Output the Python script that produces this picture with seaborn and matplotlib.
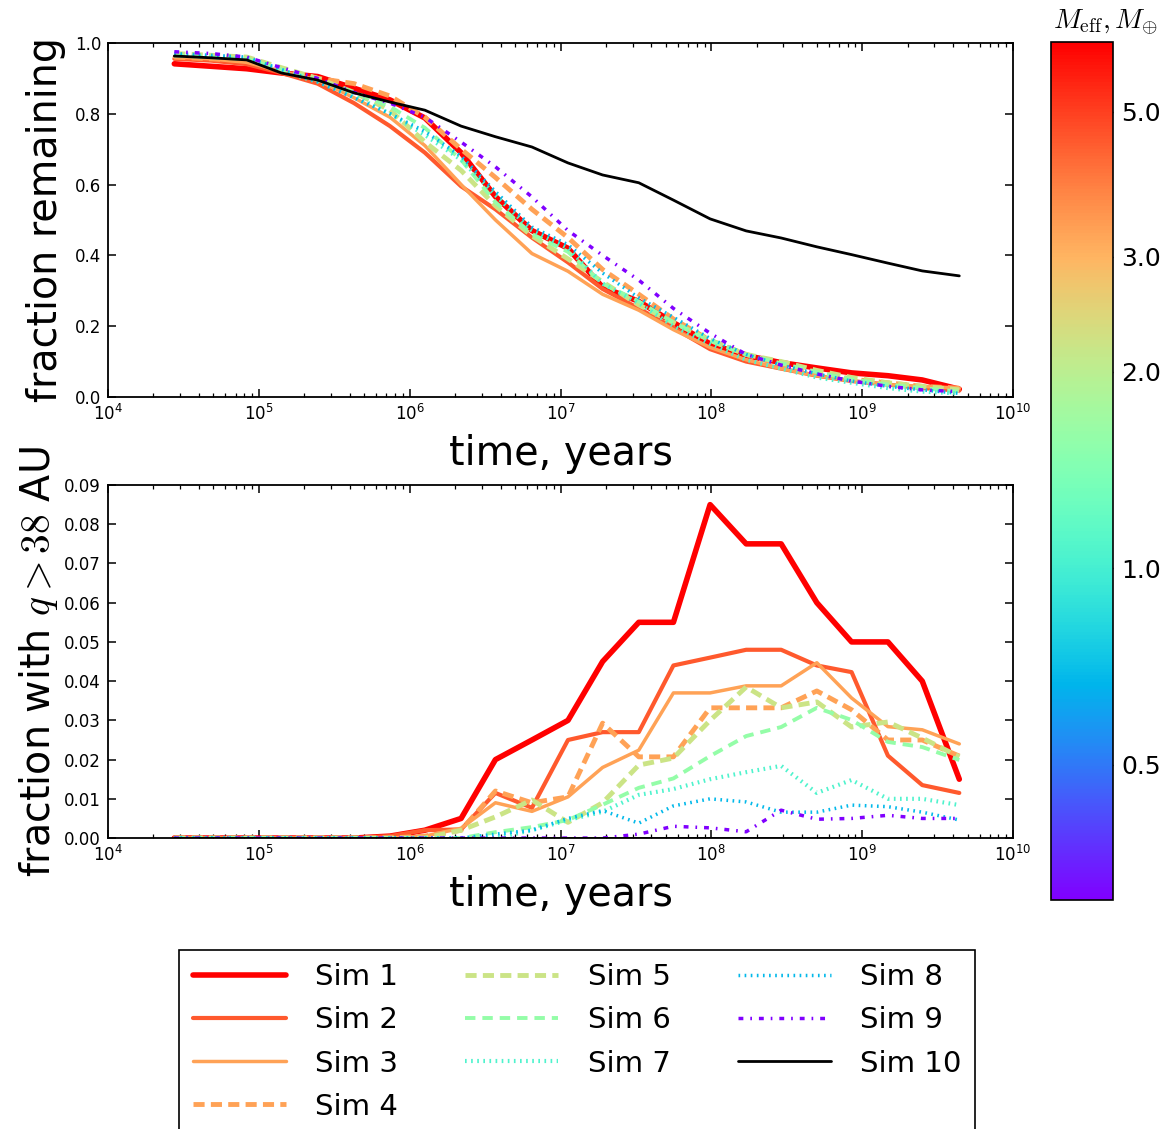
#!/usr/bin/env python
# -*- coding: utf-8 -*-

import numpy as np
import pandas as pd
import matplotlib
matplotlib.use('Agg')
import matplotlib.pyplot as plt
import matplotlib.colors as mcolors
import matplotlib.ticker as mticker
import seaborn as sns

# ==================== data ====================
times = [2.75e4, 4.8e4, 8.3e4, 1.41e5, 2.45e5, 4.27e5, 7.4e5, 1.26e6, 2.19e6,
         3.7e6, 6.46e6, 1.12e7, 1.9e7, 3.3e7, 5.6e7, 9.8e7, 1.7e8, 2.9e8,
         5.0e8, 8.5e8, 1.48e9, 2.5e9, 4.4e9]
time_ticks = [1e4, 1e5, 1e6, 1e7, 1e8, 1e9, 1e10]

sim_names = ['Sim 1', 'Sim 2', 'Sim 3', 'Sim 4', 'Sim 5',
             'Sim 6', 'Sim 7', 'Sim 8', 'Sim 9', 'Sim 10']
# effective mass (Earth masses) used for the colour of sims 1-9
sim_mass = [6.4, 4.5, 3.3, 3.3, 2.2, 1.6, 1.05, 0.68, 0.31]
mass_ticks = [0.5, 1.0, 2.0, 3.0, 5.0]

# fraction remaining (top panel)
rem_sim1 = [0.941, 0.934, 0.927, 0.915, 0.905, 0.872, 0.839, 0.788, 0.69, 0.566, 0.47, 0.42,
            0.31, 0.27, 0.21, 0.15, 0.117, 0.097, 0.082, 0.068, 0.06, 0.048, 0.022]
rem_sim2 = [0.955, 0.95, 0.94, 0.915, 0.885, 0.83, 0.765, 0.69, 0.595, 0.53, 0.45, 0.38,
            0.305, 0.25, 0.195, 0.135, 0.1, 0.08, 0.06, 0.045, 0.035, 0.025, 0.018]
rem_sim3 = [0.96, 0.955, 0.945, 0.92, 0.895, 0.845, 0.79, 0.71, 0.6, 0.5, 0.405, 0.355,
            0.29, 0.245, 0.19, 0.14, 0.105, 0.08, 0.06, 0.045, 0.035, 0.03, 0.025]
rem_sim4 = [0.96, 0.955, 0.95, 0.92, 0.9, 0.885, 0.85, 0.79, 0.7, 0.62, 0.53, 0.45,
            0.36, 0.29, 0.22, 0.16, 0.12, 0.09, 0.07, 0.05, 0.04, 0.03, 0.025]
rem_sim5 = [0.97, 0.965, 0.96, 0.93, 0.9, 0.86, 0.81, 0.72, 0.64, 0.54, 0.455, 0.39,
            0.325, 0.26, 0.21, 0.16, 0.12, 0.1, 0.075, 0.055, 0.04, 0.03, 0.02]
rem_sim6 = [0.965, 0.96, 0.955, 0.925, 0.895, 0.86, 0.82, 0.76, 0.67, 0.55, 0.46, 0.41,
            0.32, 0.27, 0.21, 0.16, 0.12, 0.095, 0.07, 0.05, 0.035, 0.025, 0.015]
rem_sim7 = [0.965, 0.96, 0.955, 0.92, 0.89, 0.85, 0.8, 0.74, 0.67, 0.57, 0.47, 0.42,
            0.32, 0.265, 0.2, 0.15, 0.105, 0.08, 0.055, 0.04, 0.025, 0.015, 0.01]
rem_sim8 = [0.97, 0.965, 0.96, 0.925, 0.89, 0.845, 0.8, 0.75, 0.68, 0.58, 0.48, 0.43,
            0.35, 0.28, 0.225, 0.165, 0.12, 0.09, 0.065, 0.045, 0.03, 0.02, 0.01]
rem_sim9 = [0.975, 0.97, 0.96, 0.93, 0.9, 0.86, 0.83, 0.79, 0.72, 0.65, 0.565, 0.47,
            0.4, 0.33, 0.25, 0.18, 0.12, 0.09, 0.065, 0.045, 0.03, 0.02, 0.015]
rem_sim10 = [0.963, 0.958, 0.952, 0.915, 0.895, 0.859, 0.833, 0.81, 0.765, 0.735, 0.706, 0.661,
             0.627, 0.605, 0.556, 0.503, 0.469, 0.449, 0.424, 0.402, 0.378, 0.356, 0.342]

# fraction with q > 38 AU (bottom panel)
q38_sim1 = [0, 0, 0, 0, 0, 0, 0.0005, 0.002, 0.005, 0.02, 0.025, 0.03,
            0.045, 0.055, 0.055, 0.085, 0.075, 0.075, 0.06, 0.05, 0.05, 0.04, 0.015]
q38_sim2 = [0, 0, 0, 0, 0, 0, 0.0005, 0.002, 0.0022, 0.0115, 0.0077, 0.025,
            0.027, 0.027, 0.044, 0.046, 0.048, 0.048, 0.044, 0.0423, 0.021, 0.0135, 0.0115]
q38_sim3 = [0, 0, 0, 0, 0, 0, 0, 0.0005, 0.0025, 0.009, 0.0068, 0.0105,
            0.018, 0.0224, 0.037, 0.037, 0.0388, 0.0388, 0.0447, 0.0357, 0.0284, 0.0276, 0.024]
q38_sim4 = [0, 0, 0, 0, 0, 0, 0, 0.0005, 0.002, 0.012, 0.009, 0.0105,
            0.0293, 0.0207, 0.0207, 0.0332, 0.0332, 0.0332, 0.0375, 0.0327, 0.025, 0.025, 0.0209]
q38_sim5 = [0, 0, 0, 0, 0, 0, 0, 0, 0.002, 0.0054, 0.0097, 0.004,
            0.009, 0.0186, 0.0204, 0.03, 0.0385, 0.0332, 0.0347, 0.0283, 0.0296, 0.0255, 0.0207]
q38_sim6 = [0, 0, 0, 0, 0, 0, 0, 0, 0, 0.0015, 0.0028, 0.0046,
            0.0085, 0.0128, 0.0152, 0.0209, 0.026, 0.0283, 0.0332, 0.0301, 0.0245, 0.0232, 0.0199]
q38_sim7 = [0, 0, 0, 0, 0, 0, 0, 0, 0, 0, 0.002, 0.0046,
            0.0067, 0.011, 0.0125, 0.015, 0.0168, 0.0184, 0.0115, 0.0148, 0.01, 0.01, 0.0084]
q38_sim8 = [0, 0, 0, 0, 0, 0, 0, 0, 0, 0.001, 0.002, 0.005,
            0.007, 0.0038, 0.0082, 0.01, 0.0092, 0.0066, 0.0066, 0.0084, 0.008, 0.0066, 0.0046]
q38_sim9 = [0, 0, 0, 0, 0, 0, 0, 0, 0, 0, 0, 0,
            0, 0.001, 0.003, 0.0026, 0.0016, 0.0071, 0.0048, 0.005, 0.0058, 0.005, 0.005]
q38_sim10 = [0] * 23

remaining = [rem_sim1, rem_sim2, rem_sim3, rem_sim4, rem_sim5,
             rem_sim6, rem_sim7, rem_sim8, rem_sim9, rem_sim10]
high_q = [q38_sim1, q38_sim2, q38_sim3, q38_sim4, q38_sim5,
          q38_sim6, q38_sim7, q38_sim8, q38_sim9, q38_sim10]

# ==================== styles ====================
line_widths = [4.0, 3.0, 2.5, 3.5, 3.5, 2.8, 3.0, 2.5, 2.5, 2.0]
line_styles = ['-', '-', '-', (0, (8, 4.5)), (0, (8, 4.5)), (0, (7.5, 5)),
               (0, (1.2, 3.2)), (0, (1.2, 3.2)), (0, (3.5, 5, 1.2, 5)), '-']

norm = mcolors.LogNorm(vmin=0.31, vmax=6.4)
cmap = plt.get_cmap('rainbow')
colors = [cmap(norm(m)) for m in sim_mass] + ['black']

sns.set_theme(style='ticks')
plt.rcParams['font.family'] = ['DejaVu Sans']
plt.rcParams['mathtext.fontset'] = 'cm'
plt.rcParams['lines.scale_dashes'] = False
plt.rcParams['xtick.direction'] = 'in'
plt.rcParams['ytick.direction'] = 'in'
plt.rcParams['xtick.top'] = True
plt.rcParams['ytick.right'] = True
plt.rcParams['axes.linewidth'] = 1.3
plt.rcParams['axes.edgecolor'] = 'black'
for key in ('text.color', 'axes.labelcolor', 'xtick.color', 'ytick.color'):
    plt.rcParams[key] = 'black'

# long-form table
rows = []
for name, rem, hq in zip(sim_names, remaining, high_q):
    for t, r, q in zip(times, rem, hq):
        rows.append((name, t, r, q))
df = pd.DataFrame(rows, columns=['sim', 'time', 'remaining', 'q38'])

fig = plt.figure(figsize=(11.72, 11.29), dpi=100)
ax1 = fig.add_axes([0.0922, 0.6484, 0.7722, 0.3136])
ax2 = fig.add_axes([0.0922, 0.2577, 0.7722, 0.3127])
cax = fig.add_axes([0.8968, 0.2028, 0.0529, 0.7600])

for i, name in enumerate(sim_names):
    sub = df[df['sim'] == name]
    for ax, col in ((ax1, 'remaining'), (ax2, 'q38')):
        sns.lineplot(data=sub, x='time', y=col, ax=ax, color=colors[i],
                     linewidth=line_widths[i], linestyle=line_styles[i],
                     label=name, legend=False, estimator=None)

minor_ticks = [d * m for d in time_ticks[:-1] for m in range(2, 10)]
for ax in (ax1, ax2):
    ax.set_xscale('log')
    ax.set_xlim(1e4, 1e10)
    ax.xaxis.set_major_locator(mticker.FixedLocator(time_ticks))
    ax.xaxis.set_minor_locator(mticker.FixedLocator(minor_ticks))
    ax.xaxis.set_major_formatter(mticker.LogFormatterSciNotation())
    ax.xaxis.set_minor_formatter(mticker.NullFormatter())
    ax.tick_params(which='major', length=6, width=1.1, labelsize=12, pad=5)
    ax.tick_params(which='minor', length=3, width=0.9)
    ax.set_xlabel('time, years', fontsize=28.5, labelpad=7)
    if ax.get_legend() is not None:
        ax.get_legend().remove()

ax1.set_ylim(0, 1.0)
ax1.set_yticks(np.arange(0, 1.01, 0.2))
ax1.yaxis.set_major_formatter(mticker.FormatStrFormatter('%.1f'))
ax1.set_ylabel('fraction remaining', fontsize=28.5, labelpad=6)

ax2.set_ylim(0, 0.09)
ax2.set_yticks(np.arange(0, 0.0901, 0.01))
ax2.yaxis.set_major_formatter(mticker.FormatStrFormatter('%.2f'))
ax2.set_ylabel(r'fraction with $q>38$ AU', fontsize=28.5, labelpad=3)

# colourbar for effective mass
sm = plt.cm.ScalarMappable(norm=norm, cmap=cmap)
cbar = fig.colorbar(sm, cax=cax, ticks=mass_ticks)
cbar.ax.yaxis.set_minor_locator(mticker.NullLocator())
cbar.ax.yaxis.set_major_formatter(mticker.FormatStrFormatter('%.1f'))
cbar.ax.tick_params(direction='in', length=6, width=1, labelsize=18, pad=6)
cbar.outline.set_linewidth(1.2)
cax.text(0.88, 1.006, r'$M_{\rm eff},M_{\oplus}$', transform=cax.transAxes,
         ha='center', va='bottom', fontsize=20)

handles, labels = ax2.get_legend_handles_labels()
leg = fig.legend(handles, labels, loc='upper center', bbox_to_anchor=(0.4923, 0.1585),
                 ncol=3, fontsize=21, frameon=True, fancybox=False, framealpha=1,
                 edgecolor='black', handlelength=3.2, handletextpad=1.0,
                 columnspacing=2.3, labelspacing=0.52, borderpad=0.45, borderaxespad=0)
leg.get_frame().set_linewidth(1.2)

plt.savefig('out.png', dpi=100)
plt.close()
